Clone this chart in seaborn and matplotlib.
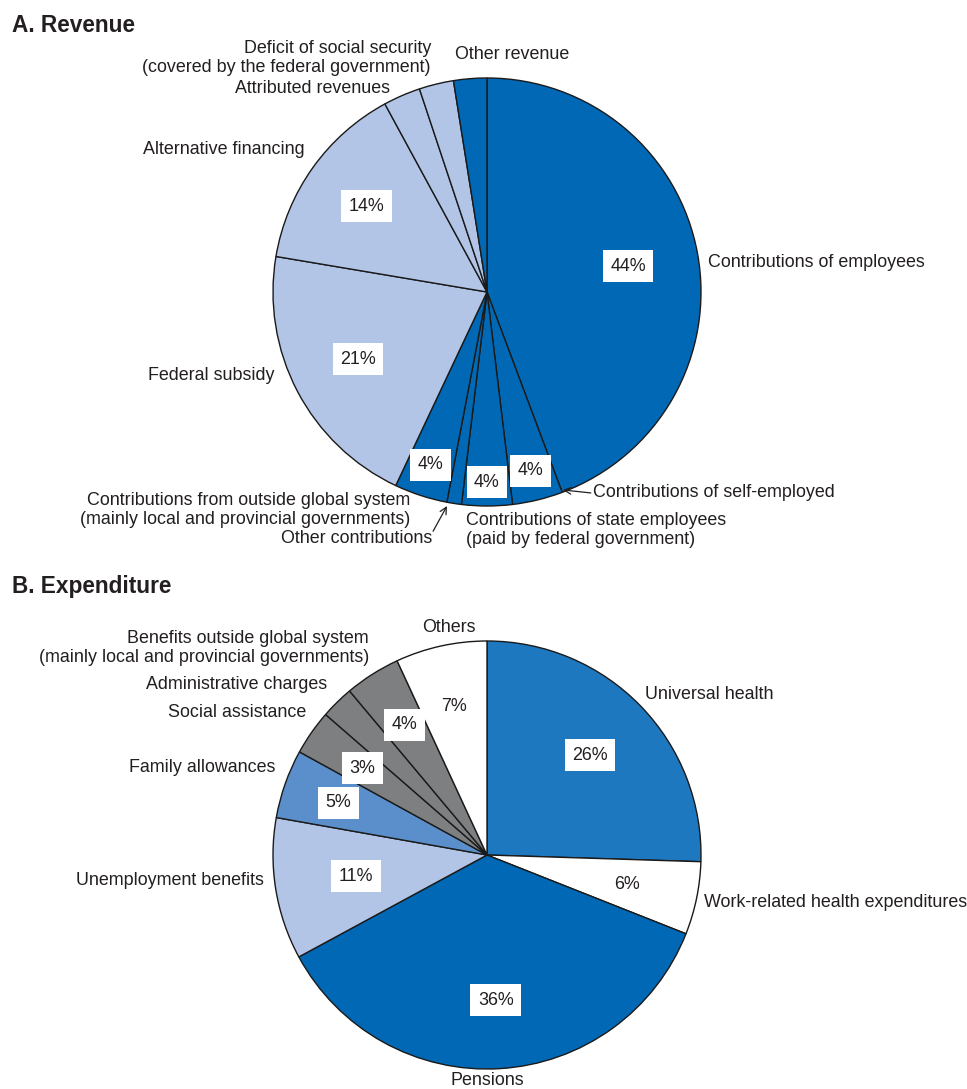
import numpy as np
import matplotlib
matplotlib.use("Agg")
import matplotlib.pyplot as plt
import seaborn as sns

# ---- data -------------------------------------------------------------
rev_names = [
    "Contributions of employees",
    "Contributions of self-employed",
    "Contributions of state employees\n(paid by federal government)",
    "Other contributions",
    "Contributions from outside global system\n(mainly local and provincial governments)",
    "Federal subsidy",
    "Alternative financing",
    "Attributed revenues",
    "Deficit of social security\n(covered by the federal government)",
    "Other revenue",
]
rev_share = [44.2, 3.8, 3.8, 1.1, 4.0, 20.6, 14.4, 2.8, 2.6, 2.5]

exp_names = [
    "Universal health",
    "Work-related health expenditures",
    "Pensions",
    "Unemployment benefits",
    "Family allowances",
    "Social assistance",
    "Administrative charges",
    "Benefits outside global system\n(mainly local and provincial governments)",
    "Others",
]
exp_share = [25.5, 5.5, 36.1, 10.7, 5.2, 3.4, 2.5, 4.2, 6.9]

# ---- style ------------------------------------------------------------
sns.set_theme(style="white")
plt.rcParams["font.family"] = ["Liberation Sans", "DejaVu Sans"]

DARK = "#0068B4"
MID = "#1E78C0"
FAM = "#5B8FCB"
LIGHT = "#B3C5E7"
GREY = "#7E7F80"
WHITE = "#FFFFFF"
INK = "#231f20"

rev_colors = sns.color_palette([DARK, DARK, DARK, DARK, DARK,
                                LIGHT, LIGHT, LIGHT, LIGHT, DARK])
exp_colors = sns.color_palette([MID, WHITE, DARK, LIGHT, FAM,
                                GREY, GREY, GREY, WHITE])

W, H = 967, 1089
R = 214.0  # pie radius in pixels
FS = 12.9
fig = plt.figure(figsize=(W / 100, H / 100), dpi=100)


def make_axes(top_px, bot_px, cx, cy):
    ax = fig.add_axes([0, (H - bot_px) / H, 1, (bot_px - top_px) / H])
    return ax, (cx, cy, top_px, bot_px)


def set_limits(ax, geom):
    cx, cy, top_px, bot_px = geom
    ax.set_xlim((0 - cx) / R, (W - cx) / R)
    ax.set_ylim((cy - bot_px) / R, (cy - top_px) / R)
    ax.set_aspect("auto")
    ax.axis("off")


def draw_pie(ax, geom, shares, colors, label_r):
    wedges, _ = ax.pie(
        shares, colors=colors, startangle=90, counterclock=False,
        radius=1.0, center=(0, 0),
        wedgeprops=dict(edgecolor="#1a1a1a", linewidth=1.0),
    )
    total = sum(shares)
    for w, s, r in zip(wedges, shares, label_r):
        pct = 100 * s / total
        if pct < 3:
            continue
        ang = np.deg2rad((w.theta1 + w.theta2) / 2)
        ax.text(r * np.cos(ang), r * np.sin(ang), f"{pct:.0f}%",
                ha="center", va="center", fontsize=FS, color=INK,
                bbox=dict(boxstyle="square,pad=0.42", fc="white", ec="none"))
    set_limits(ax, geom)
    return wedges


TXT = dict(fontsize=FS, color=INK)

# ---- A. Revenue -------------------------------------------------------
axA, gA = make_axes(0, 560, 487, 292)
draw_pie(axA, gA, rev_share, rev_colors,
         [0.67, 0.86, 0.89, 0.0, 0.85, 0.68, 0.69, 0.0, 0.0, 0.0])

rev_pos = [
    (1.033, 0.136, "left"),
    (0.495, -0.939, "left"),
    (-0.098, -1.112, "left"),
    (-0.257, -1.150, "right"),
    (-0.360, -1.019, "right"),
    (-0.995, -0.388, "right"),
    (-0.850, 0.664, "right"),
    (-0.453, 0.953, "right"),
    (-0.262, 1.093, "right"),
    (-0.150, 1.112, "left"),
]
for name, (x, y, ha) in zip(rev_names, rev_pos):
    axA.text(x, y, name, ha=ha, va="center", multialignment=ha,
             linespacing=1.1, **TXT)

arrow = dict(arrowstyle="->", color=INK, lw=0.9,
             shrinkA=0, shrinkB=0, mutation_scale=12)
axA.annotate("", xy=(0.355, -0.925), xytext=(0.485, -0.939),
             arrowprops=arrow)
axA.annotate("", xy=(-0.187, -1.0), xytext=(-0.252, -1.118),
             arrowprops=arrow)

# ---- B. Expenditure ---------------------------------------------------
axB, gB = make_axes(560, H, 487, 855)
draw_pie(axB, gB, exp_share, exp_colors,
         [0.67, 0.67, 0.68, 0.62, 0.735, 0.71, 0.0, 0.72, 0.71])

exp_pos = [
    (0.738, 0.752, "left"),
    (1.014, -0.224, "left"),
    (0.0, -1.056, "center"),
    (-1.042, -0.117, "right"),
    (-0.991, 0.407, "right"),
    (-0.846, 0.668, "right"),
    (-0.748, 0.799, "right"),
    (-0.551, 0.967, "right"),
    (-0.178, 1.061, "center"),
]
for name, (x, y, ha) in zip(exp_names, exp_pos):
    axB.text(x, y, name, ha=ha, va="center", multialignment=ha,
             linespacing=1.1, **TXT)

# ---- panel titles -----------------------------------------------------
fig.text(12 / W, 1 - 25 / H, "A. Revenue", ha="left", va="center",
         fontsize=16.3, fontweight="bold", color=INK)
fig.text(12 / W, 1 - 587 / H, "B. Expenditure", ha="left", va="center",
         fontsize=16.3, fontweight="bold", color=INK)

fig.savefig("out.png", dpi=100, facecolor="white")
